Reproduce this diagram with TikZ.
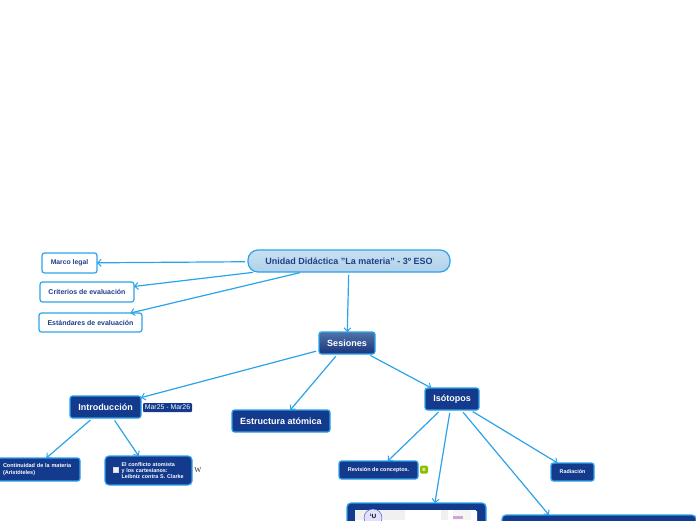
\documentclass[tikz,border=0pt]{standalone}
\usepackage{fontspec}
\setmainfont{Liberation Sans}
\newfontfamily\wikifont{Liberation Serif}
\usetikzlibrary{arrows.meta}
\definecolor{linkblue}{HTML}{2BA3EA}
\definecolor{navy}{HTML}{133A8C}
\definecolor{inktext}{HTML}{1F3F8A}
\definecolor{rootTop}{HTML}{C9DFF1}
\definecolor{rootBot}{HTML}{AFD2EA}
\definecolor{sesTop}{HTML}{4F73A8}
\definecolor{sesBot}{HTML}{17357C}
\definecolor{lime}{HTML}{8DBE00}
\tikzset{
  box/.style={draw=linkblue,line width=1.2pt,rounded corners=2.5pt,outer sep=0pt,inner sep=0pt,align=center,font=\bfseries},
  whitebox/.style={box,fill=white,text=inktext},
  navybox/.style={box,fill=navy,text=white},
  link/.style={draw=linkblue,line width=1.2pt,shorten <=3pt,-{Straight Barb[length=3.5pt,width=7pt,line width=1pt]}},
  patch/.style={fill=#1,draw=none,inner sep=0pt,outer sep=0pt}
}
\begin{document}
\begin{tikzpicture}[x=1pt,y=-1pt]
\useasboundingbox (0,0) rectangle (696,520);
\clip (0,0) rectangle (696,520);
\fill[white] (0,0) rectangle (696,520);
% main nodes
\node[box,rounded corners=10pt,top color=rootTop,bottom color=rootBot,text=inktext,minimum width=202pt,minimum height=22pt,font=\bfseries\fontsize{9}{10}\selectfont] (root) at (349,261) {Unidad Didáctica \symbol{34}La materia\symbol{34} - 3º ESO};
\node[whitebox,minimum width=55pt,minimum height=20pt,font=\bfseries\fontsize{6.8}{8}\selectfont] (marco) at (69.5,263) {Marco legal};
\node[whitebox,minimum width=94pt,minimum height=20pt,font=\bfseries\fontsize{7}{8}\selectfont] (criterios) at (87,292) {Criterios de evaluación};
\node[whitebox,minimum width=103pt,minimum height=19pt,font=\bfseries\fontsize{7}{8}\selectfont] (estandares) at (90.5,322.5) {Estándares de evaluación};
\node[box,top color=sesTop,bottom color=sesBot,text=white,minimum width=56pt,minimum height=22pt,font=\bfseries\fontsize{9}{10}\selectfont] (sesiones) at (347,343) {Sesiones};
\node[navybox,minimum width=71pt,minimum height=22pt,font=\bfseries\fontsize{9}{10}\selectfont] (intro) at (105.5,407) {Introducción};
\node[navybox,minimum width=98pt,minimum height=22pt,font=\bfseries\fontsize{9}{10}\selectfont] (estructura) at (281,421) {Estructura atómica};
\node[navybox,minimum width=54pt,minimum height=22pt,font=\bfseries\fontsize{9}{10}\selectfont] (isotopos) at (452,399) {Isótopos};
\node[navybox,minimum width=94pt,minimum height=23pt,text width=60pt,align=left,font=\bfseries\fontsize{5.5}{6.2}\selectfont] (continuidad) at (33,469.5) {\makebox[60pt][l]{Continuidad de la materia}\\(Aristóteles)};
\node[navybox,rounded corners=4pt,minimum width=87pt,minimum height=29pt,text width=54pt,align=left,font=\bfseries\fontsize{5.4}{6}\selectfont] (conflicto) at (148.5,470.5) {\makebox[54pt][l]{El conflicto atomista}\\\makebox[54pt][l]{y los cartesianos:}\\\makebox[54pt][l]{Leibniz contra S. Clarke}};
\node[navybox,minimum width=79pt,minimum height=18pt,font=\bfseries\fontsize{5.5}{6}\selectfont] (revision) at (378.5,470) {Revisión de conceptos.};
\node[navybox,minimum width=43pt,minimum height=18pt,font=\bfseries\fontsize{5.4}{6}\selectfont] (radiacion) at (572.5,472) {Radiación};
\node[navybox,rounded corners=4pt,minimum width=139pt,minimum height=224pt] (imagen) at (416.5,615) {};
\node[navybox,rounded corners=4pt,minimum width=194pt,minimum height=120pt] (grande) at (599,575) {};
% tags and icons
\node[fill=navy,text=white,rounded corners=1pt,inner sep=0pt,minimum width=49pt,minimum height=9pt,font=\fontsize{6.9}{7}\selectfont] (fecha) at (167.5,407.5) {Mar25 - Mar26};
\node[draw=white!70!gray,fill=white!88!gray,inner sep=0pt,minimum size=5pt] (casilla) at (115.5,470) {};
\node[text=black!80,inner sep=0pt,font=\wikifont\fontsize{7.5}{8}\selectfont] (wiki) at (198,470) {W};
\node[fill=lime,rounded corners=1.5pt,text=white,inner sep=0pt,minimum size=8pt,font=\bfseries\fontsize{6}{6}\selectfont] (verde) at (424,469.5) {e};
% picture inside the large box
\node[fill=white,rounded corners=1.5pt,inner sep=0pt,minimum width=122pt,minimum height=30pt] (foto) at (416,525) {};
\node[patch=black!6,minimum width=50pt,minimum height=10pt] (gris1) at (380,515) {};
\node[patch=black!6,minimum width=7pt,minimum height=10pt] (gris2) at (444.5,515) {};
\node[patch=black!4,minimum width=18pt,minimum height=10pt] (gris3) at (462,515) {};
\node[patch=violet!35,minimum width=10pt,minimum height=2.5pt] (rosa) at (458,517.5) {};
\node[circle,draw=blue!45!gray,fill=blue!12,inner sep=0pt,minimum size=18pt] (atomo) at (373,518) {};
\node[inner sep=0pt,font=\bfseries\fontsize{6}{6}\selectfont] (atomotxt) at (373,516) {\raisebox{2pt}{\fontsize{3.5}{4}\selectfont 1}U};
% connectors
\draw[link] (root) -- (marco);
\draw[link] (root) -- (criterios);
\draw[link] (root) -- (estandares);
\draw[link] (root) -- (sesiones);
\draw[link] (sesiones) -- (intro);
\draw[link] (sesiones) -- (estructura);
\draw[link] (sesiones) -- (isotopos);
\draw[link] (intro) -- (continuidad);
\draw[link] (intro) -- (conflicto);
\draw[link] (isotopos) -- (revision);
\draw[link] (isotopos) -- (imagen);
\draw[link] (isotopos) -- (grande);
\draw[link] (isotopos) -- (radiacion);
\end{tikzpicture}
\end{document}
